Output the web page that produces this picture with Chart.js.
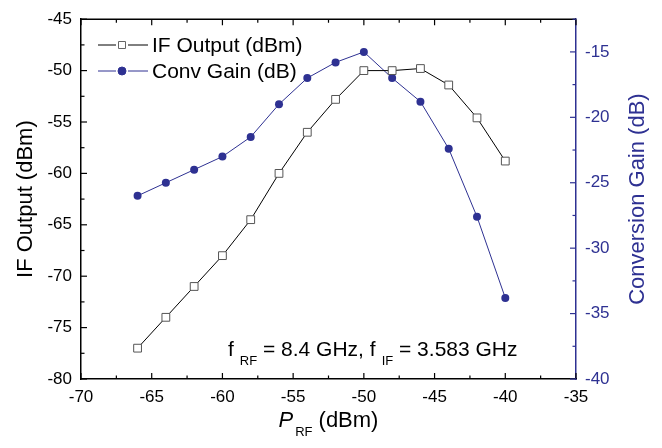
<!DOCTYPE html>
<html>
<head>
<meta charset="utf-8">
<script src="https://cdn.jsdelivr.net/npm/chart.js@4.4.0/dist/chart.umd.min.js"></script>
<style>
  html, body { margin: 0; padding: 0; background: #fff; }
  #wrap { width: 662px; height: 448px; }
</style>
</head>
<body>
<div id="wrap"><canvas id="chart" width="662" height="448"></canvas></div>
<script>
// Data
const pRF = [-66, -64, -62, -60, -58, -56, -54, -52, -50, -48, -46, -44, -42, -40];
const ifOutput = [-77, -74, -71, -68, -64.5, -60, -56, -52.8, -50, -50, -49.8, -51.4, -54.6, -58.8];
const convGain = [-26, -25, -24, -23, -21.5, -19, -17, -15.8, -15, -17, -18.8, -22.4, -27.6, -33.8];

const xRange = [-70, -35];
const ifRange = [-80, -45];
const gainRange = [-40, -12.5];
const tickStep = 5;

const seriesNames = ['IF Output (dBm)', 'Conv Gain (dB)'];
const xTitle = ['P', 'RF', '(dBm)'];
const yTitle = 'IF Output (dBm)';
const y1Title = 'Conversion Gain (dB)';
const note = ['f', 'RF', ' = 8.4 GHz, f', 'IF', ' = 3.583 GHz'];

const BLUE = '#2e3192';
const FONT = "'Liberation Sans', Arial, sans-serif";

// Ticks, frame, legend, titles and the annotation
const decorPlugin = {
    id: 'decor',
    afterDraw(chart) {
        const ctx = chart.ctx;
        const a = chart.chartArea;
        const sx = chart.scales.x, sy = chart.scales.y, sy1 = chart.scales.y1;
        ctx.save();

        // top frame line
        ctx.strokeStyle = '#000';
        ctx.lineWidth = 1.5;
        ctx.beginPath();
        ctx.moveTo(a.left, a.top);
        ctx.lineTo(a.right, a.top);
        ctx.stroke();

        // inside ticks, major + minor
        const half = tickStep / 2;
        ctx.lineWidth = 1.2;
        ctx.strokeStyle = '#000';
        for (let v = xRange[0]; v <= xRange[1]; v += half) {
            const px = sx.getPixelForValue(v);
            const len = (v % tickStep === 0) ? 6 : 3.5;
            ctx.beginPath();
            ctx.moveTo(px, a.bottom); ctx.lineTo(px, a.bottom - len);
            ctx.moveTo(px, a.top); ctx.lineTo(px, a.top + len);
            ctx.stroke();
        }
        for (let v = ifRange[0]; v <= ifRange[1]; v += half) {
            const py = sy.getPixelForValue(v);
            const len = (v % tickStep === 0) ? 6 : 3.5;
            ctx.beginPath();
            ctx.moveTo(a.left, py); ctx.lineTo(a.left + len, py);
            ctx.stroke();
        }
        ctx.strokeStyle = BLUE;
        for (let v = gainRange[0]; v <= gainRange[1]; v += half) {
            const py = sy1.getPixelForValue(v);
            const len = (v % tickStep === 0) ? 6 : 3.5;
            ctx.beginPath();
            ctx.moveTo(a.right, py); ctx.lineTo(a.right - len, py);
            ctx.stroke();
        }

        // legend
        const legend = [
            { y: 45, line: '#000', style: 'rect', fill: '#fff', edge: '#666', r: 4 },
            { y: 71, line: BLUE, style: 'circle', fill: BLUE, edge: BLUE, r: 4 }
        ];
        ctx.font = `21px ${FONT}`;
        ctx.textBaseline = 'middle';
        ctx.textAlign = 'left';
        legend.forEach((item, i) => {
            ctx.strokeStyle = item.line;
            ctx.lineWidth = 1;
            ctx.beginPath();
            ctx.moveTo(98, item.y); ctx.lineTo(116, item.y);
            ctx.moveTo(128, item.y); ctx.lineTo(148, item.y);
            ctx.stroke();
            ctx.fillStyle = item.fill;
            ctx.strokeStyle = item.edge;
            ctx.beginPath();
            if (item.style === 'rect') {
                ctx.rect(122 - 3.5, item.y - 3.5, 7, 7);
            } else {
                ctx.arc(122, item.y, item.r, 0, Math.PI * 2);
            }
            ctx.fill();
            ctx.stroke();
            ctx.fillStyle = '#000';
            ctx.fillText(seriesNames[i], 152, item.y + 1);
        });

        // annotation with subscripts
        let nx = 228;
        const ny = 350;
        ctx.fillStyle = '#000';
        note.forEach((part, i) => {
            const sub = i % 2 === 1;
            ctx.font = sub ? `13px ${FONT}` : `21px ${FONT}`;
            if (sub) nx += 6;
            ctx.fillText(part, nx, sub ? ny + 11 : ny);
            nx += ctx.measureText(part).width;
        });

        // x title: italic P with subscript RF
        ctx.font = `italic 22px ${FONT}`;
        const wP = ctx.measureText(xTitle[0]).width;
        ctx.font = `13px ${FONT}`;
        const wSub = ctx.measureText(xTitle[1]).width;
        ctx.font = `22px ${FONT}`;
        const wUnit = ctx.measureText(xTitle[2]).width;
        const gap = 6;
        let tx = (a.left + a.right) / 2 - (wP + 2 + wSub + gap + wUnit) / 2;
        const ty = 421;
        ctx.font = `italic 22px ${FONT}`;
        ctx.fillText(xTitle[0], tx, ty);
        tx += wP + 2;
        ctx.font = `13px ${FONT}`;
        ctx.fillText(xTitle[1], tx, ty + 11);
        tx += wSub + gap;
        ctx.font = `22px ${FONT}`;
        ctx.fillText(xTitle[2], tx, ty);

        // y titles
        const cy = (a.top + a.bottom) / 2;
        ctx.textAlign = 'center';
        ctx.save();
        ctx.translate(26, cy);
        ctx.rotate(-Math.PI / 2);
        ctx.fillStyle = '#000';
        ctx.fillText(yTitle, 0, 0);
        ctx.restore();
        ctx.save();
        ctx.translate(638, cy);
        ctx.rotate(-Math.PI / 2);
        ctx.fillStyle = BLUE;
        ctx.fillText(y1Title, 0, 0);
        ctx.restore();

        ctx.restore();
    }
};

const ctx = document.getElementById('chart').getContext('2d');
new Chart(ctx, {
    type: 'scatter',
    data: {
        datasets: [
            {
                label: seriesNames[0],
                data: pRF.map((x, i) => ({ x: x, y: ifOutput[i] })),
                yAxisID: 'y',
                showLine: true,
                borderColor: '#000',
                borderWidth: 1,
                pointStyle: 'rect',
                pointRadius: 5.5,
                pointBackgroundColor: '#fff',
                pointBorderColor: '#555',
                pointBorderWidth: 1
            },
            {
                label: seriesNames[1],
                data: pRF.map((x, i) => ({ x: x, y: convGain[i] })),
                yAxisID: 'y1',
                showLine: true,
                borderColor: BLUE,
                borderWidth: 1,
                pointStyle: 'circle',
                pointRadius: 4,
                pointBackgroundColor: BLUE,
                pointBorderColor: BLUE,
                pointBorderWidth: 0
            }
        ]
    },
    options: {
        responsive: false,
        animation: false,
        devicePixelRatio: 1,
        layout: { padding: { top: 14, left: 0, right: 0, bottom: 0 } },
        plugins: {
            legend: { display: false },
            tooltip: { enabled: false }
        },
        scales: {
            x: {
                type: 'linear',
                min: xRange[0], max: xRange[1],
                ticks: { stepSize: tickStep, color: '#000', padding: 8, font: { family: FONT, size: 17 } },
                grid: { drawOnChartArea: false, drawTicks: false },
                border: { display: true, color: '#000', width: 1.5 },
                afterFit: (scale) => { scale.height = 69; }
            },
            y: {
                position: 'left',
                min: ifRange[0], max: ifRange[1],
                ticks: { stepSize: tickStep, color: '#000', padding: 9, font: { family: FONT, size: 17 } },
                grid: { drawOnChartArea: false, drawTicks: false },
                border: { display: true, color: '#000', width: 1.5 },
                afterFit: (scale) => { scale.width = 81; }
            },
            y1: {
                position: 'right',
                min: gainRange[0], max: gainRange[1],
                ticks: { stepSize: tickStep, color: BLUE, padding: 9, font: { family: FONT, size: 17 } },
                afterBuildTicks: (scale) => {
                    scale.ticks = scale.ticks.filter(t => t.value % tickStep === 0);
                },
                grid: { drawOnChartArea: false, drawTicks: false },
                border: { display: true, color: BLUE, width: 1.5 },
                afterFit: (scale) => { scale.width = 86; }
            }
        }
    },
    plugins: [decorPlugin]
});
</script>
</body>
</html>
